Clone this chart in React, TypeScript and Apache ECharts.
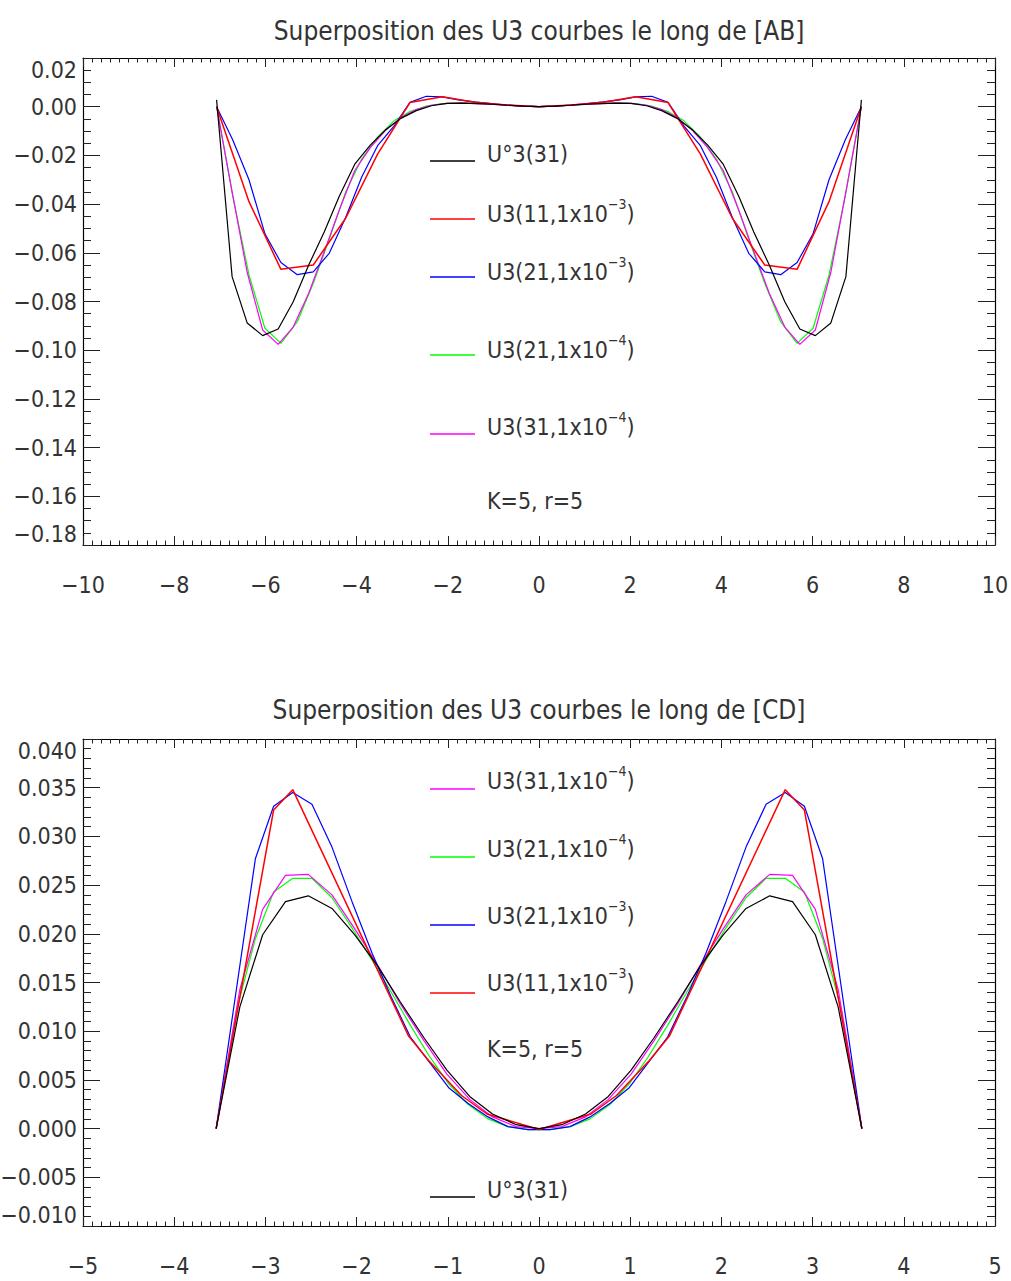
import React, { useEffect, useRef } from "react";
import * as echarts from "echarts";

// ---------- Top chart: along [AB] ----------
const topTitle = "Superposition des U3 courbes le long de [AB]";
const topXTicks = { min: -10, max: 10, step: 2 };
const topYTicks = { min: -0.18, max: 0.02, step: 0.02 };

const topBlackX = [-7.07, -6.73, -6.40, -6.06, -5.72, -5.39, -5.05, -4.71, -4.38, -4.04, -3.70, -3.37, -3.03, -2.69, -2.36, -2.02, -1.68, -1.35, -1.01, -0.67, -0.34, 0.00, 0.34, 0.67, 1.01, 1.35, 1.68, 2.02, 2.36, 2.69, 3.03, 3.37, 3.70, 4.04, 4.38, 4.71, 5.05, 5.39, 5.72, 6.06, 6.40, 6.73, 7.07];
const topBlackY = [0.0028, -0.0698, -0.0888, -0.0940, -0.0913, -0.0801, -0.0650, -0.0515, -0.0368, -0.0236, -0.0158, -0.0096, -0.0048, -0.0016, 0.0004, 0.0014, 0.0015, 0.0013, 0.0010, 0.0006, 0.0002, 0.0000, 0.0002, 0.0006, 0.0010, 0.0013, 0.0015, 0.0014, 0.0004, -0.0016, -0.0048, -0.0096, -0.0158, -0.0236, -0.0368, -0.0515, -0.0650, -0.0801, -0.0913, -0.0940, -0.0888, -0.0698, 0.0028];

const topMagentaX = [-7.07, -6.73, -6.40, -6.06, -5.72, -5.39, -5.05, -4.71, -4.38, -4.04, -3.70, -3.37, -3.03, -2.69, -2.36, -2.02, -1.68, -1.35, -1.01, -0.67, -0.34, 0.00, 0.34, 0.67, 1.01, 1.35, 1.68, 2.02, 2.36, 2.69, 3.03, 3.37, 3.70, 4.04, 4.38, 4.71, 5.05, 5.39, 5.72, 6.06, 6.40, 6.73, 7.07];
const topMagentaY = [0.0000, -0.0350, -0.0680, -0.0917, -0.0976, -0.0905, -0.0766, -0.0595, -0.0424, -0.0262, -0.0168, -0.0098, -0.0045, -0.0012, 0.0006, 0.0014, 0.0015, 0.0013, 0.0009, 0.0005, 0.0002, 0.0000, 0.0002, 0.0005, 0.0009, 0.0013, 0.0015, 0.0014, 0.0006, -0.0012, -0.0045, -0.0098, -0.0168, -0.0262, -0.0424, -0.0595, -0.0766, -0.0905, -0.0976, -0.0917, -0.0680, -0.0350, 0.0000];

const topGreenX = [-7.07, -6.72, -6.36, -6.01, -5.66, -5.30, -4.95, -4.60, -4.24, -3.89, -3.54, -3.18, -2.83, -2.47, -2.12, -1.77, -1.41, -1.06, -0.71, -0.35, 0.00, 0.35, 0.71, 1.06, 1.41, 1.77, 2.12, 2.47, 2.83, 3.18, 3.54, 3.89, 4.24, 4.60, 4.95, 5.30, 5.66, 6.01, 6.36, 6.72, 7.07];
const topGreenY = [0.0000, -0.0363, -0.0691, -0.0910, -0.0972, -0.0883, -0.0725, -0.0545, -0.0350, -0.0215, -0.0125, -0.0058, -0.0020, 0.0003, 0.0013, 0.0015, 0.0014, 0.0010, 0.0006, 0.0002, 0.0000, 0.0002, 0.0006, 0.0010, 0.0014, 0.0015, 0.0013, 0.0003, -0.0020, -0.0058, -0.0125, -0.0215, -0.0350, -0.0545, -0.0725, -0.0883, -0.0972, -0.0910, -0.0691, -0.0363, 0.0000];

const topBlueX = [-7.07, -6.72, -6.36, -6.01, -5.66, -5.30, -4.95, -4.60, -4.24, -3.89, -3.54, -3.18, -2.83, -2.47, -2.12, -1.77, -1.41, -1.06, -0.71, -0.35, 0.00, 0.35, 0.71, 1.06, 1.41, 1.77, 2.12, 2.47, 2.83, 3.18, 3.54, 3.89, 4.24, 4.60, 4.95, 5.30, 5.66, 6.01, 6.36, 6.72, 7.07];
const topBlueY = [0.0000, -0.0135, -0.0300, -0.0522, -0.0640, -0.0690, -0.0678, -0.0602, -0.0455, -0.0290, -0.0160, -0.0080, 0.0018, 0.0043, 0.0040, 0.0028, 0.0020, 0.0013, 0.0007, 0.0002, 0.0000, 0.0002, 0.0007, 0.0013, 0.0020, 0.0028, 0.0040, 0.0043, 0.0018, -0.0080, -0.0160, -0.0290, -0.0455, -0.0602, -0.0678, -0.0690, -0.0640, -0.0522, -0.0300, -0.0135, 0.0000];

const topRedX = [-7.07, -6.36, -5.66, -4.95, -4.24, -3.54, -2.83, -2.12, -1.41, -0.71, 0.00, 0.71, 1.41, 2.12, 2.83, 3.54, 4.24, 4.95, 5.66, 6.36, 7.07];
const topRedY = [0.0000, -0.0390, -0.0668, -0.0650, -0.0458, -0.0195, 0.0017, 0.0041, 0.0018, 0.0007, 0.0000, 0.0007, 0.0018, 0.0041, 0.0017, -0.0195, -0.0458, -0.0650, -0.0668, -0.0390, 0.0000];

// ---------- Bottom chart: along [CD] ----------
const botTitle = "Superposition des U3 courbes le long de [CD]";
const botXTicks = { min: -5, max: 5, step: 1 };
const botYTicks = { min: -0.01, max: 0.04, step: 0.005 };

const botBlackX = [-3.54, -3.28, -3.03, -2.78, -2.53, -2.27, -2.02, -1.77, -1.52, -1.26, -1.01, -0.76, -0.51, -0.25, 0.00, 0.25, 0.51, 0.76, 1.01, 1.26, 1.52, 1.77, 2.02, 2.27, 2.53, 2.78, 3.03, 3.28, 3.54];
const botBlackY = [0.0000, 0.0125, 0.0199, 0.0233, 0.0239, 0.0226, 0.0199, 0.0167, 0.0130, 0.0093, 0.0060, 0.0033, 0.0015, 0.0004, 0.0000, 0.0004, 0.0015, 0.0033, 0.0060, 0.0093, 0.0130, 0.0167, 0.0199, 0.0226, 0.0239, 0.0233, 0.0199, 0.0125, 0.0000];

const botMagentaX = [-3.54, -3.28, -3.03, -2.78, -2.53, -2.27, -2.02, -1.77, -1.52, -1.26, -1.01, -0.76, -0.51, -0.25, 0.00, 0.25, 0.51, 0.76, 1.01, 1.26, 1.52, 1.77, 2.02, 2.27, 2.53, 2.78, 3.03, 3.28, 3.54];
const botMagentaY = [0.0000, 0.0143, 0.0225, 0.0260, 0.0261, 0.0240, 0.0205, 0.0168, 0.0128, 0.0090, 0.0056, 0.0030, 0.0012, 0.0002, 0.0000, 0.0002, 0.0012, 0.0030, 0.0056, 0.0090, 0.0128, 0.0168, 0.0205, 0.0240, 0.0261, 0.0260, 0.0225, 0.0143, 0.0000];

const botGreenX = [-3.54, -3.32, -3.11, -2.91, -2.70, -2.49, -2.27, -2.05, -1.83, -1.62, -1.41, -1.20, -0.99, -0.78, -0.56, -0.34, -0.12, 0.00, 0.12, 0.34, 0.56, 0.78, 0.99, 1.20, 1.41, 1.62, 1.83, 2.05, 2.27, 2.49, 2.70, 2.91, 3.11, 3.32, 3.54];
const botGreenY = [0.0000, 0.0120, 0.0195, 0.0243, 0.0257, 0.0257, 0.0237, 0.0206, 0.0173, 0.0140, 0.0106, 0.0074, 0.0046, 0.0025, 0.0010, 0.0002, -0.0001, -0.0001, -0.0001, 0.0002, 0.0010, 0.0025, 0.0046, 0.0074, 0.0106, 0.0140, 0.0173, 0.0206, 0.0237, 0.0257, 0.0257, 0.0243, 0.0195, 0.0120, 0.0000];

const botBlueX = [-3.54, -3.11, -2.91, -2.70, -2.49, -2.27, -2.05, -1.83, -1.62, -1.41, -1.20, -0.99, -0.78, -0.56, -0.34, -0.12, 0.00, 0.12, 0.34, 0.56, 0.78, 0.99, 1.20, 1.41, 1.62, 1.83, 2.05, 2.27, 2.49, 2.70, 2.91, 3.11, 3.54];
const botBlueY = [0.0000, 0.0277, 0.0331, 0.0345, 0.0333, 0.0289, 0.0233, 0.0180, 0.0135, 0.0094, 0.0068, 0.0042, 0.0026, 0.0012, 0.0002, -0.0001, -0.0001, -0.0001, 0.0002, 0.0012, 0.0026, 0.0042, 0.0068, 0.0094, 0.0135, 0.0180, 0.0233, 0.0289, 0.0333, 0.0345, 0.0331, 0.0277, 0.0000];

const botRedX = [-3.54, -2.91, -2.70, -1.43, -1.21, -0.85, -0.57, 0.00, 0.57, 0.85, 1.21, 1.43, 2.70, 2.91, 3.54];
const botRedY = [0.0000, 0.0327, 0.0348, 0.0095, 0.0070, 0.0034, 0.0015, -0.0001, 0.0015, 0.0034, 0.0070, 0.0095, 0.0348, 0.0327, 0.0000];

// ---------- Legend labels ----------
const topLegend = [
  { name: "U°3(31)", color: "#000000", sup: "" },
  { name: "U3(11,1x10", color: "#ff0000", sup: "−3" },
  { name: "U3(21,1x10", color: "#0000ff", sup: "−3" },
  { name: "U3(21,1x10", color: "#00ff00", sup: "−4" },
  { name: "U3(31,1x10", color: "#ff00ff", sup: "−4" },
];
const botLegend = [
  { name: "U3(31,1x10", color: "#ff00ff", sup: "−4" },
  { name: "U3(21,1x10", color: "#00ff00", sup: "−4" },
  { name: "U3(21,1x10", color: "#0000ff", sup: "−3" },
  { name: "U3(11,1x10", color: "#ff0000", sup: "−3" },
  { name: "U°3(31)", color: "#000000", sup: "" },
];
const paramText = "K=5, r=5";

const FONT = "'DejaVu Sans Condensed', 'DejaVu Sans', sans-serif";
const TXT = "#333333";
const AXFS = 23;
const LEGFS = 23;

const pairs = (xs: number[], ys: number[]) => xs.map((x, i) => [x, ys[i]]);

const fmtNum = (v: number, d: number) => {
  if (Math.abs(v) < 1e-12) return (0).toFixed(d);
  return (v < 0 ? "−" : "") + Math.abs(v).toFixed(d);
};

function makeAxes(gridIndex: number, xt: any, yt: any, yDec: number, xMinor: number, yMinor: number) {
  const line = { show: true, onZero: false, lineStyle: { color: "#000", width: 1.2 } };
  const xLabel = {
    show: true,
    margin: 28,
    fontSize: AXFS,
    fontFamily: FONT,
    color: TXT,
    formatter: (v: number) => fmtNum(v, 0),
  };
  const yLabel = {
    show: true,
    margin: 6,
    fontSize: AXFS,
    fontFamily: FONT,
    color: TXT,
    verticalAlignMinLabel: "bottom",
    verticalAlignMaxLabel: "top",
    formatter: (v: number) => fmtNum(v, yDec),
  };
  const xAxes = ["bottom", "top"].map((pos, k) => ({
    type: "value",
    gridIndex,
    position: pos,
    min: xt.min,
    max: xt.max,
    interval: xt.step,
    axisLine: line,
    axisTick: { show: true, inside: true, length: 9, lineStyle: { color: "#222", width: 1 } },
    minorTick: { show: true, splitNumber: xMinor, length: 4.5, lineStyle: { color: "#222", width: 1 } },
    splitLine: { show: false },
    minorSplitLine: { show: false },
    axisLabel: k === 0 ? xLabel : { show: false },
  }));
  const yAxes = ["left", "right"].map((pos, k) => ({
    type: "value",
    gridIndex,
    position: pos,
    min: yt.min,
    max: yt.max,
    interval: yt.step,
    axisLine: line,
    axisTick: { show: true, inside: true, length: 17, lineStyle: { color: "#222", width: 1 } },
    minorTick: { show: true, splitNumber: yMinor, length: 8, lineStyle: { color: "#222", width: 1 } },
    splitLine: { show: false },
    minorSplitLine: { show: false },
    axisLabel: k === 0 ? yLabel : { show: false },
  }));
  return { xAxes, yAxes };
}

function lineSeries(xIdx: number, yIdx: number, xs: number[], ys: number[], color: string, width: number, z: number) {
  return {
    type: "line",
    xAxisIndex: xIdx,
    yAxisIndex: yIdx,
    data: pairs(xs, ys),
    symbol: "none",
    showSymbol: false,
    silent: true,
    z,
    lineStyle: { color, width },
  };
}

function legendGraphics(items: any[], lineYs: number[], textYs: number[]) {
  const out: any[] = [];
  items.forEach((it, i) => {
    out.push({
      type: "line",
      shape: { x1: 430, y1: lineYs[i], x2: 475, y2: lineYs[i] },
      style: { stroke: it.color, lineWidth: 1.3 },
      silent: true,
    });
    const text = it.sup ? `{n|${it.name}}{s|${it.sup}}{n|)}` : `{n|${it.name}}`;
    out.push({
      type: "text",
      x: 487,
      y: textYs[i],
      silent: true,
      style: {
        text,
        verticalAlign: "middle",
        align: "left",
        fill: TXT,
        font: `${LEGFS}px ${FONT}`,
        rich: {
          n: { fontSize: LEGFS, fontFamily: FONT, fill: TXT, color: TXT, lineHeight: 28, verticalAlign: "bottom" },
          s: { fontSize: 14, fontFamily: FONT, fill: TXT, color: TXT, lineHeight: 28, verticalAlign: "top" },
        },
      },
    });
  });
  return out;
}

export default function App() {
  const ref = useRef<HTMLDivElement | null>(null);
  useEffect(() => {
    if (!ref.current) return;
    const chart = echarts.init(ref.current, null, { renderer: "svg" });
    const a0 = makeAxes(0, topXTicks, topYTicks, 2, 10, 4);
    const a1 = makeAxes(1, botXTicks, botYTicks, 3, 10, 5);
    const titleStyle = { fontSize: 26, fontFamily: FONT, color: TXT, fontWeight: "normal" };
    const option: any = {
      animation: false,
      backgroundColor: "#ffffff",
      title: [
        { text: topTitle, left: 534, top: 13, textAlign: "center", textStyle: titleStyle },
        { text: botTitle, left: 534, top: 692, textAlign: "center", textStyle: titleStyle },
      ],
      grid: [
        { left: 83, top: 58, width: 912, height: 487, containLabel: false, outerBoundsMode: "none" },
        { left: 83, top: 739, width: 912, height: 487, containLabel: false, outerBoundsMode: "none" },
      ],
      xAxis: [...a0.xAxes, ...a1.xAxes],
      yAxis: [...a0.yAxes, ...a1.yAxes],
      series: [
        lineSeries(0, 0, topGreenX, topGreenY, "#00ff00", 1.2, 2),
        lineSeries(0, 0, topMagentaX, topMagentaY, "#ff00ff", 1.2, 3),
        lineSeries(0, 0, topBlueX, topBlueY, "#0000ff", 1.2, 4),
        lineSeries(0, 0, topRedX, topRedY, "#ff0000", 1.5, 5),
        lineSeries(0, 0, topBlackX, topBlackY, "#000000", 1.2, 6),
        lineSeries(2, 2, botGreenX, botGreenY, "#00ff00", 1.2, 2),
        lineSeries(2, 2, botMagentaX, botMagentaY, "#ff00ff", 1.2, 3),
        lineSeries(2, 2, botBlueX, botBlueY, "#0000ff", 1.2, 4),
        lineSeries(2, 2, botRedX, botRedY, "#ff0000", 1.5, 5),
        lineSeries(2, 2, botBlackX, botBlackY, "#000000", 1.2, 6),
      ],
      graphic: [
        ...legendGraphics(topLegend, [161, 219, 277, 355, 434], [151, 211, 269, 347, 424]),
        ...legendGraphics(botLegend, [789, 857, 925, 993, 1197], [778, 846, 913, 980, 1187]),
        { type: "text", x: 487, y: 501, silent: true, style: { text: paramText, verticalAlign: "middle", fill: TXT, font: `${LEGFS}px ${FONT}` } },
        { type: "text", x: 487, y: 1049, silent: true, style: { text: paramText, verticalAlign: "middle", fill: TXT, font: `${LEGFS}px ${FONT}` } },
      ],
    };
    chart.setOption(option);
    return () => chart.dispose();
  }, []);
  return (
    <div
      ref={ref}
      style={{ position: "absolute", left: 0, top: 0, width: 1011, height: 1281, background: "#fff" }}
    />
  );
}
